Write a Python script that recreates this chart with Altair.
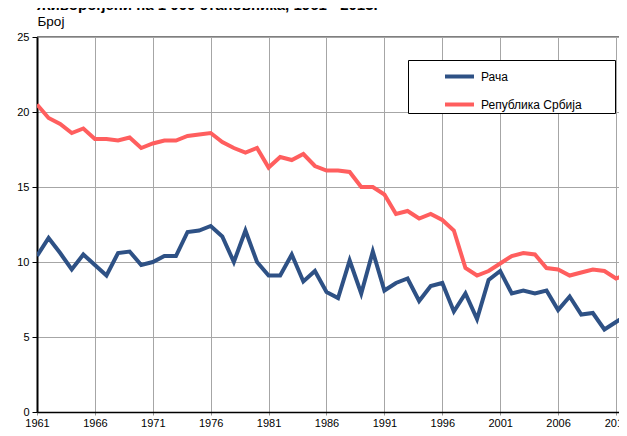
import altair as alt
import pandas as pd

years = list(range(1961, 2013))

raca = [10.4, 11.6, 10.6, 9.5, 10.5, 9.8, 9.1, 10.6, 10.7, 9.8,
        10.0, 10.4, 10.4, 12.0, 12.1, 12.4, 11.7, 10.0, 12.1, 10.0,
        9.1, 9.1, 10.5, 8.7, 9.4, 8.0, 7.6, 10.1, 7.9, 10.7,
        8.1, 8.6, 8.9, 7.4, 8.4, 8.6, 6.7, 7.9, 6.2, 8.8,
        9.4, 7.9, 8.1, 7.9, 8.1, 6.8, 7.7, 6.5, 6.6, 5.5,
        6.0, 6.5]

srbija = [20.5, 19.6, 19.2, 18.6, 18.9, 18.2, 18.2, 18.1, 18.3, 17.6,
          17.9, 18.1, 18.1, 18.4, 18.5, 18.6, 18.0, 17.6, 17.3, 17.6,
          16.3, 17.0, 16.8, 17.2, 16.4, 16.1, 16.1, 16.0, 15.0, 15.0,
          14.5, 13.2, 13.4, 12.9, 13.2, 12.8, 12.1, 9.6, 9.1, 9.4,
          9.9, 10.4, 10.6, 10.5, 9.6, 9.5, 9.1, 9.3, 9.5, 9.4,
          8.9, 9.2]

series_names = ["Рача", "Република Србија"]
series_colors = ["#2E5185", "#FF5E5E"]
x_ticks = [1961, 1966, 1971, 1976, 1981, 1986, 1991, 1996, 2001, 2006, 2011]
y_ticks = [0, 5, 10, 15, 20, 25]

title_text = "Живорођени на 1 000 становника, 1961 - 2013."
y_title = "Број"

df = pd.concat([
    pd.DataFrame({"Година": years, "Вредност": raca, "Серија": series_names[0]}),
    pd.DataFrame({"Година": years, "Вредност": srbija, "Серија": series_names[1]}),
])

FONT = "Liberation Sans"
PLOT_W = 582

chart = alt.Chart(df).mark_line(strokeWidth=4, clip=True).encode(
    x=alt.X("Година:Q",
            scale=alt.Scale(domain=[1961, 2011.26], nice=False, zero=False),
            axis=alt.Axis(values=x_ticks, format="d", title=None,
                          labelFontSize=11, labelColor="#000", labelFont=FONT,
                          labelFlush=False, labelPadding=2,
                          tickSize=3, tickColor="#999",
                          domainColor="#000", domainWidth=1.5,
                          gridColor="#a6a6a6", gridWidth=1)),
    y=alt.Y("Вредност:Q",
            scale=alt.Scale(domain=[0, 25], nice=False),
            axis=alt.Axis(values=y_ticks, title=y_title,
                          titleAngle=0, titleAlign="left", titleBaseline="alphabetic",
                          titleX=0, titleY=-12, titleFont=FONT, titleFontSize=13.5,
                          titleFontWeight="normal", titleColor="#000",
                          labelFontSize=11, labelColor="#000", labelFont=FONT,
                          labelPadding=3, tickSize=5, tickColor="#000",
                          domainColor="#000", domainWidth=2,
                          gridColor="#a6a6a6", gridWidth=1)),
    color=alt.Color("Серија:N",
                    scale=alt.Scale(domain=series_names, range=series_colors),
                    legend=alt.Legend(orient="none", legendX=371, legendY=23,
                                      title=" ", titleOrient="right", titlePadding=33,
                                      symbolType="stroke", symbolSize=841,
                                      symbolStrokeWidth=4, symbolOffset=35,
                                      labelFont=FONT, labelFontSize=12,
                                      labelColor="#000", labelOffset=5,
                                      rowPadding=3, padding=0,
                                      strokeColor="#000", fillColor="#fff")),
).properties(
    width=PLOT_W,
    height=375,
    title=alt.TitleParams(text=title_text, anchor="start", frame="group",
                          font=FONT, fontSize=15, fontWeight="bold",
                          baseline="alphabetic", dy=13,
                          color="#000", offset=2),
    padding={"left": 29, "top": 29, "right": 0, "bottom": 16},
    autosize=alt.AutoSizeParams(type="none"),
).configure_view(
    stroke="#7f7f7f", strokeWidth=2, strokeDash=[PLOT_W, 3000]
)

chart.save("out.html", embed_options={"renderer": "svg", "actions": False})
